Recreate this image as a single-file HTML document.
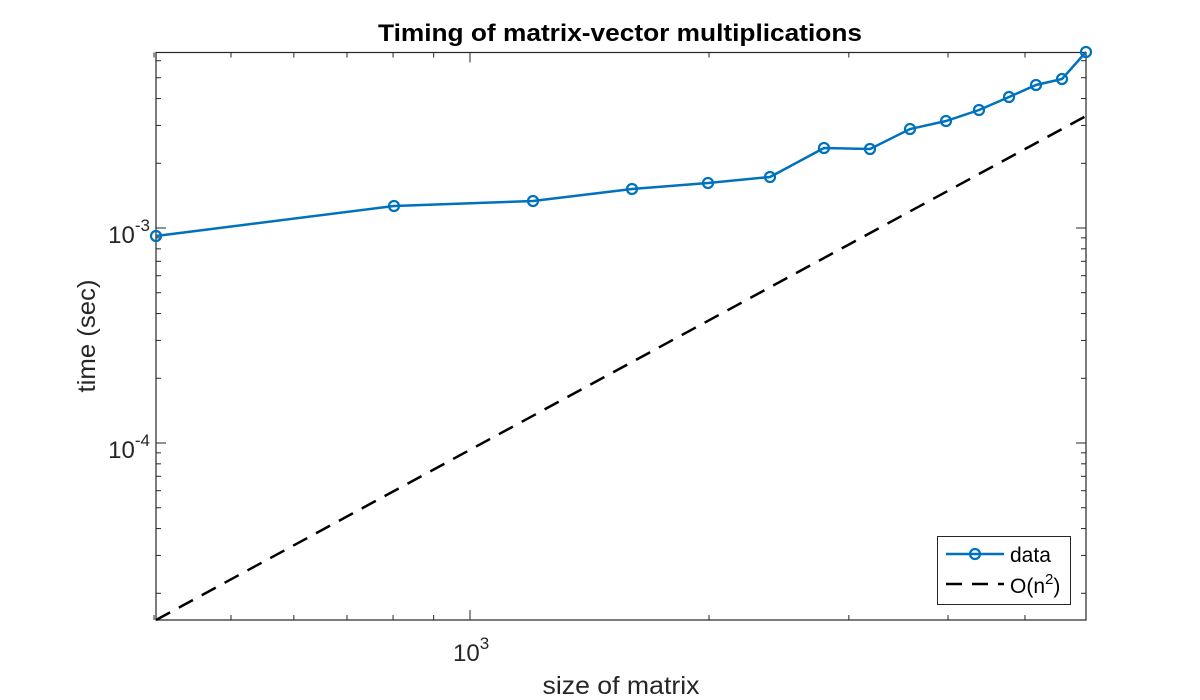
<!DOCTYPE html>
<html><head><meta charset="utf-8"><style>
html,body{margin:0;padding:0;background:#fff;width:1200px;height:700px;overflow:hidden}
svg{display:block;font-family:"Liberation Sans",Arial,sans-serif}
</style></head><body>
<svg id="s" width="1200" height="700" viewBox="0 0 1200 700">
<rect width="1200" height="700" fill="#fff"/>
<g id="ticks" stroke="#262626" stroke-width="1"></g>
<rect x="156" y="52.5" width="930" height="567.5" fill="none" stroke="#262626" stroke-width="1.2"/>
<line x1="156" y1="620" x2="1086" y2="116" stroke="#000" stroke-width="2.5" stroke-dasharray="16,10"/>
<polyline fill="none" stroke="#0072BD" stroke-width="2.5" points="156,236 394,206 533,201 632,189 708,183 770,177 824,148 870,149 910,129 946,121 979,110 1009,97 1036,85 1062,79 1086,52"/>
<g id="mk" fill="none" stroke="#0072BD" stroke-width="2.2"></g>
<text x="620" y="41" text-anchor="middle" font-size="24" font-weight="bold" fill="#000" textLength="484" lengthAdjust="spacingAndGlyphs">Timing of matrix-vector multiplications</text>
<text x="621" y="694" text-anchor="middle" font-size="25" fill="#262626" textLength="157" lengthAdjust="spacingAndGlyphs">size of matrix</text>
<text transform="translate(95,336) rotate(-90)" text-anchor="middle" font-size="25" fill="#262626" textLength="113" lengthAdjust="spacingAndGlyphs">time (sec)</text>
<text x="453" y="661" font-size="24" fill="#262626">10<tspan dy="-12" font-size="17">3</tspan></text>
<text x="150" y="243" text-anchor="end" font-size="24" fill="#262626">10<tspan dy="-12" font-size="17">-3</tspan></text>
<text x="150" y="458" text-anchor="end" font-size="24" fill="#262626">10<tspan dy="-12" font-size="17">-4</tspan></text>
<rect x="937.5" y="536.5" width="133" height="68" fill="#fff" stroke="#262626" stroke-width="1"/>
<line x1="946" y1="554" x2="1004" y2="554" stroke="#0072BD" stroke-width="2.5"/>
<circle cx="975" cy="554" r="5" fill="none" stroke="#0072BD" stroke-width="2.2"/>
<text x="1010" y="562" font-size="21" fill="#000">data</text>
<line x1="946" y1="584" x2="1004" y2="584" stroke="#000" stroke-width="2.5" stroke-dasharray="16,10"/>
<text x="1010" y="593" font-size="21" fill="#000">O(n<tspan dy="-9" font-size="15">2</tspan><tspan dy="9">)</tspan></text>
</svg>
<script>
var ns="http://www.w3.org/2000/svg",t=document.getElementById('ticks');
function L(a,b,c,d){var l=document.createElementNS(ns,'line');l.setAttribute('x1',a);l.setAttribute('y1',b);l.setAttribute('x2',c);l.setAttribute('y2',d);t.appendChild(l);}
var xs=[400,500,600,700,800,900,1000,2000,3000,4000,5000];
xs.forEach(function(n){var x=470+794*Math.log10(n/1000);var len=(n==1000)?10:5;L(x,620,x,620-len);L(x,52.5,x,52.5+len);});
var ys=[];for(var k=2;k<=9;k++){ys.push(k*1e-5);}ys.push(1e-4);for(k=2;k<=9;k++)ys.push(k*1e-4);ys.push(1e-3);for(k=2;k<=6;k++)ys.push(k*1e-3);
ys.forEach(function(v){var y=228-215*(Math.log10(v)+3);if(y<52||y>620)return;var big=Math.abs(Math.log10(v)%1)<1e-9;var len=big?10:5;L(156,y,156+len,y);L(1086,y,1086-len,y);});
var m=document.getElementById('mk');
[[156,236],[394,206],[533,201],[632,189],[708,183],[770,177],[824,148],[870,149],[910,129],[946,121],[979,110],[1009,97],[1036,85],[1062,79],[1086,52]].forEach(function(p){var c=document.createElementNS(ns,'circle');c.setAttribute('cx',p[0]);c.setAttribute('cy',p[1]);c.setAttribute('r',5);m.appendChild(c);});
</script>
</body></html>
